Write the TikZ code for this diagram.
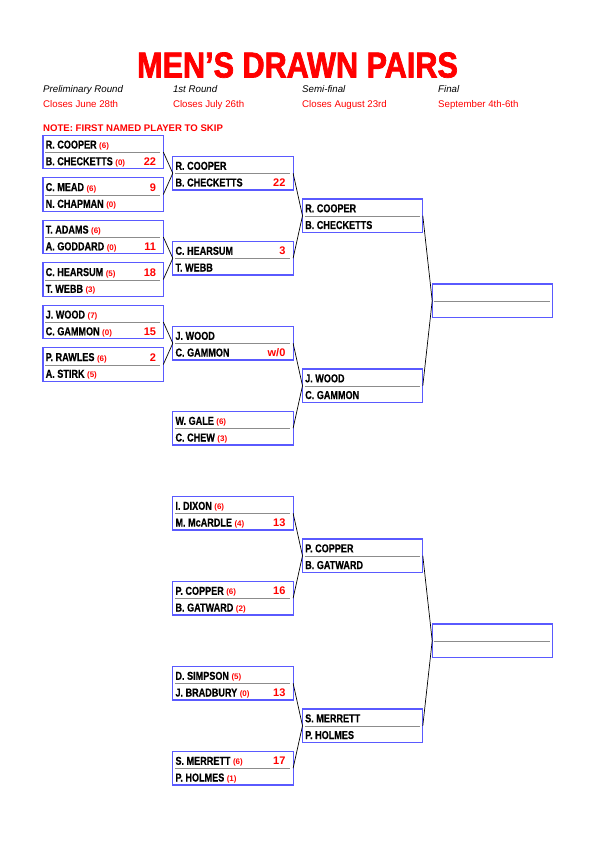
\documentclass[tikz,border=0pt]{standalone}
\usepackage{fontspec}
\setmainfont{Liberation Sans}
\newfontfamily\condfont{Liberation Sans}[FakeStretch=0.79,BoldFeatures={FakeBold=0.4}]
\newfontfamily\titlefont{Liberation Sans}[UprightFont={* Bold},FakeStretch=0.85,FakeBold=2]
\usetikzlibrary{calc}
\definecolor{boxblue}{RGB}{90,90,255}
\definecolor{sepgray}{RGB}{140,140,140}
\newcommand\sd[1]{{\normalfont\fontsize{8}{9}\selectfont\bfseries\color{red}#1}}
% #1 name, #2 left x, #3 centre y, #4 top text, #5 top score, #6 bottom text, #7 bottom score, #8 score inset
\newcommand\pairbox[8]{%
  \node[pbox] (#1) at (#2,#3) {};
  \draw[sepline] ($(#1.west)+(2,0.7)$) -- ($(#1.east)+(-3,0.7)$);
  \if\relax\detokenize{#4}\relax\else
    \node[nm] (#1a) at ($(#1.north west)+(2.5,13.3)$) {#4};\fi
  \if\relax\detokenize{#5}\relax\else
    \node[sc] (#1as) at ($(#1.north east)+(-#8,13.3)$) {#5};\fi
  \if\relax\detokenize{#6}\relax\else
    \node[nm] (#1b) at ($(#1.north west)+(2.5,30)$) {#6};\fi
  \if\relax\detokenize{#7}\relax\else
    \node[sc] (#1bs) at ($(#1.north east)+(-#8,30)$) {#7};\fi
}
\begin{document}
\begin{tikzpicture}[x=1pt,y=-1pt,
  pbox/.style={draw=boxblue,line width=1.2pt,minimum width=120.3pt,minimum height=33.5pt,inner sep=0pt,outer sep=0pt,anchor=west},
  sepline/.style={draw=sepgray,line width=1pt},
  nm/.style={anchor=base west,inner sep=0pt,font=\condfont\bfseries\fontsize{11.5}{13}\selectfont},
  sc/.style={anchor=base east,inner sep=0pt,text=red,font=\bfseries\fontsize{11}{13}\selectfont},
  conn/.style={draw=black,line width=0.7pt},
  hdr/.style={anchor=base west,inner sep=0pt,font=\itshape\fontsize{9.7}{11}\selectfont},
  cls/.style={anchor=base west,inner sep=0pt,text=red,font=\fontsize{9.7}{11}\selectfont}]
\useasboundingbox (0,0) rectangle (595,842);

\node[anchor=base,inner sep=0pt,text=red,font=\titlefont\fontsize{36}{40}\selectfont] (title) at (297.5,77.5) {MEN’S DRAWN PAIRS};

\node[hdr] (h1) at (43,92.7) {Preliminary Round};
\node[hdr] (h2) at (172.8,92.7) {1st Round};
\node[hdr] (h3) at (302,92.7) {Semi-final};
\node[hdr] (h4) at (438,92.7) {Final};
\node[cls] (c1) at (43,107.3) {Closes June 28th};
\node[cls] (c2) at (172.8,107.3) {Closes July 26th};
\node[cls] (c3) at (302,107.3) {Closes August 23rd};
\node[cls] (c4) at (438,107.3) {September 4th-6th};
\node[anchor=base west,inner sep=0pt,text=red,font=\bfseries\fontsize{9.6}{11}\selectfont] (note) at (43,131.7) {NOTE: FIRST NAMED PLAYER TO SKIP};

% Preliminary round
\pairbox{p1}{43}{152}{R. COOPER \sd{(6)}}{}{B. CHECKETTS \sd{(0)}}{22}{7}
\pairbox{p2}{43}{194.5}{C. MEAD \sd{(6)}}{9}{N. CHAPMAN \sd{(0)}}{}{7}
\pairbox{p3}{43}{237}{T. ADAMS \sd{(6)}}{}{A. GODDARD \sd{(0)}}{11}{7}
\pairbox{p4}{43}{279.5}{C. HEARSUM \sd{(5)}}{18}{T. WEBB \sd{(3)}}{}{7}
\pairbox{p5}{43}{322}{J. WOOD \sd{(7)}}{}{C. GAMMON \sd{(0)}}{15}{7}
\pairbox{p6}{43}{364.5}{P. RAWLES \sd{(6)}}{2}{A. STIRK \sd{(5)}}{}{7}

% First round
\pairbox{r1}{172.8}{173.25}{R. COOPER}{}{B. CHECKETTS}{22}{7.5}
\pairbox{r2}{172.8}{258.25}{C. HEARSUM}{3}{T. WEBB}{}{7.5}
\pairbox{r3}{172.8}{343.25}{J. WOOD}{}{C. GAMMON}{w/0}{7.5}
\pairbox{r4}{172.8}{428.25}{W. GALE \sd{(6)}}{}{C. CHEW \sd{(3)}}{}{7.5}
\pairbox{r5}{172.8}{513.25}{I. DIXON \sd{(6)}}{}{M. McARDLE \sd{(4)}}{13}{7.5}
\pairbox{r6}{172.8}{598.25}{P. COPPER \sd{(6)}}{16}{B. GATWARD \sd{(2)}}{}{7.5}
\pairbox{r7}{172.8}{683.25}{D. SIMPSON \sd{(5)}}{}{J. BRADBURY \sd{(0)}}{13}{7.5}
\pairbox{r8}{172.8}{768.25}{S. MERRETT \sd{(6)}}{17}{P. HOLMES \sd{(1)}}{}{7.5}

% Semi-finals
\pairbox{s1}{302.5}{215.75}{R. COOPER}{}{B. CHECKETTS}{}{7.5}
\pairbox{s2}{302.5}{385.75}{J. WOOD}{}{C. GAMMON}{}{7.5}
\pairbox{s3}{302.5}{555.75}{P. COPPER}{}{B. GATWARD}{}{7.5}
\pairbox{s4}{302.5}{725.75}{S. MERRETT}{}{P. HOLMES}{}{7.5}

% Finals
\pairbox{f1}{432.2}{300.75}{}{}{}{}{7.5}
\pairbox{f2}{432.2}{640.75}{}{}{}{}{7.5}

% Connectors
\foreach \a/\b in {p1/r1,p2/r1,p3/r2,p4/r2,p5/r3,p6/r3,
                   r1/s1,r2/s1,r3/s2,r4/s2,r5/s3,r6/s3,r7/s4,r8/s4,
                   s1/f1,s2/f1,s3/f2,s4/f2}
  \draw[conn] (\a.east) -- (\b.west);
\end{tikzpicture}
\end{document}
